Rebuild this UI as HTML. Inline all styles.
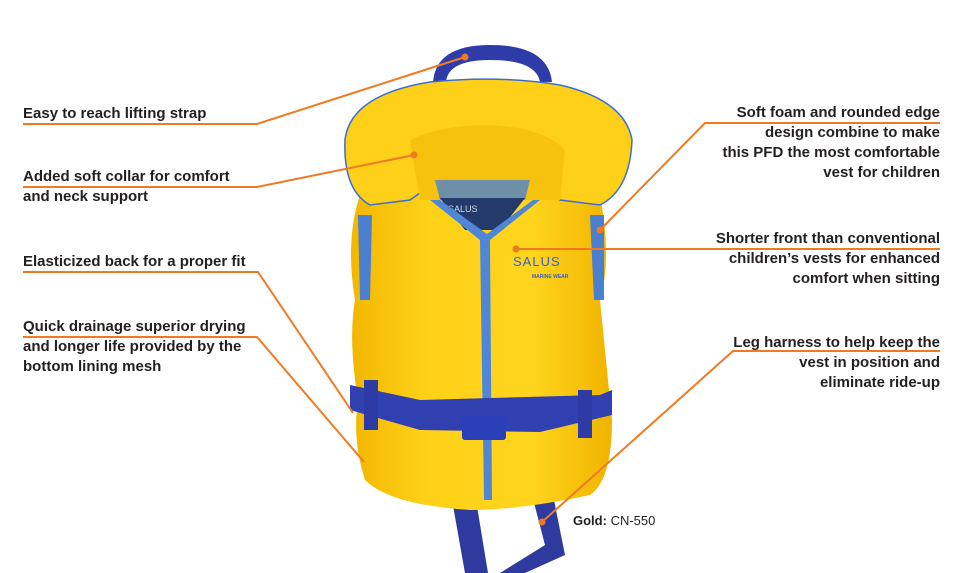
<!DOCTYPE html>
<html><head><meta charset="utf-8"><style>
html,body{margin:0;padding:0;background:#fff;}
body{width:967px;height:573px;position:relative;overflow:hidden;font-family:"Liberation Sans",sans-serif;}
.t{position:absolute;font-weight:bold;font-size:15px;line-height:20px;color:#231f20;white-space:nowrap;}
.r{text-align:right;right:27px;}
svg{position:absolute;left:0;top:0;}
</style></head><body>
<svg width="967" height="573" viewBox="0 0 967 573">
<defs>
<linearGradient id="y" x1="0" x2="1" y1="0" y2="0">
<stop offset="0" stop-color="#f2b700"/><stop offset="0.3" stop-color="#ffd21a"/><stop offset="0.7" stop-color="#ffd41c"/><stop offset="1" stop-color="#f0b300"/>
</linearGradient>
</defs>
<!-- lower straps -->
<path d="M452 500 L465 573 L488 573 L476 500Z" fill="#2f3a9e"/>
<path d="M532 495 L545 545 L500 573 L525 573 L565 555 L553 495Z" fill="#2f3a9e"/>
<!-- top strap loop -->
<path d="M433 82 Q436 45 490 45 Q548 45 552 82 L540 82 Q536 60 490 60 Q448 60 446 82Z" fill="#2f3ca8"/>
<!-- body -->
<path d="M360 195 L600 195 Q612 260 600 300 Q606 360 612 420 Q612 480 590 495 Q520 510 470 510 Q390 505 365 480 Q352 440 358 400 Q348 340 355 300 Q345 240 360 195Z" fill="url(#y)"/>
<path d="M358 215 L372 215 L370 300 L360 300Z" fill="#4b7fd0"/>
<path d="M590 215 L604 215 L604 300 L594 300Z" fill="#4b7fd0"/>
<!-- collar -->
<path d="M345 140 Q350 95 430 82 Q500 75 560 85 Q625 100 632 140 Q630 190 600 205 L560 200 Q520 170 490 170 Q450 170 410 200 L370 205 Q343 190 345 140Z" fill="#ffd01a" stroke="#3a6fd0" stroke-width="1.5"/>
<path d="M410 140 Q440 125 490 125 Q545 128 565 150 L560 200 L420 200Z" fill="#f7c20e"/>
<path d="M435 180 L530 180 L525 200 L440 200Z" fill="#6e8fa8"/>
<path d="M440 198 L525 198 L500 230 L465 230Z" fill="#233a6a"/>
<text x="448" y="212" font-family="Liberation Sans" font-size="9" fill="#cfd8ee">SALUS</text>
<!-- zipper -->
<path d="M430 200 L480 240 L484 500 L492 500 L490 240 L540 200 L533 200 L487 234 L440 200Z" fill="#4f86d8"/>
<text x="513" y="266" font-family="Liberation Sans" font-size="13" fill="#3660c8" letter-spacing="1">SALUS</text>
<text x="532" y="278" font-family="Liberation Sans" font-size="5" font-weight="bold" fill="#3660c8">MARINE WEAR</text>
<!-- belt -->
<path d="M350 385 L420 400 L600 395 L612 390 L612 415 L540 432 L420 430 L350 410Z" fill="#3040b0"/>
<rect x="462" y="415" width="44" height="25" rx="3" fill="#2a3fb8"/>
<rect x="364" y="380" width="14" height="50" fill="#2e3aa6"/>
<rect x="578" y="390" width="14" height="48" fill="#2e3aa6"/>
<!-- callout lines -->
<g stroke="#f07a22" stroke-width="2" fill="none">
<polyline points="23,124 257,124 465,57"/>
<polyline points="23,187 257,187 414,155"/>
<polyline points="23,272 258,272 353,413"/>
<polyline points="23,337 257,337 364,462"/>
<polyline points="940,123 705,123 600,230"/>
<polyline points="940,249 516,249"/>
<polyline points="940,351 733,351 542,522"/>
</g>
<g fill="#f07a22">
<circle cx="465" cy="57" r="3.5"/><circle cx="414" cy="155" r="3.5"/><circle cx="600" cy="230" r="3.5"/>
<circle cx="516" cy="249" r="3.5"/><circle cx="542" cy="522" r="3.5"/>
</g>
</svg>
<div class="t" style="left:23px;top:104px">Easy to reach lifting strap</div>
<div class="t" style="left:23px;top:167px">Added soft collar for comfort<br>and neck support</div>
<div class="t" style="left:23px;top:252px">Elasticized back for a proper fit</div>
<div class="t" style="left:23px;top:317px">Quick drainage superior drying<br>and longer life provided by the<br>bottom lining mesh</div>
<div class="t r" style="top:103px">Soft foam and rounded edge<br>design combine to make<br>this PFD the most comfortable<br>vest for children</div>
<div class="t r" style="top:229px">Shorter front than conventional<br>children’s vests for enhanced<br>comfort when sitting</div>
<div class="t r" style="top:333px">Leg harness to help keep the<br>vest in position and<br>eliminate ride-up</div>
<div class="t" style="left:573px;top:511px;font-size:13px"><b>Gold:</b> <span style="font-weight:normal">CN-550</span></div>
</body></html>
